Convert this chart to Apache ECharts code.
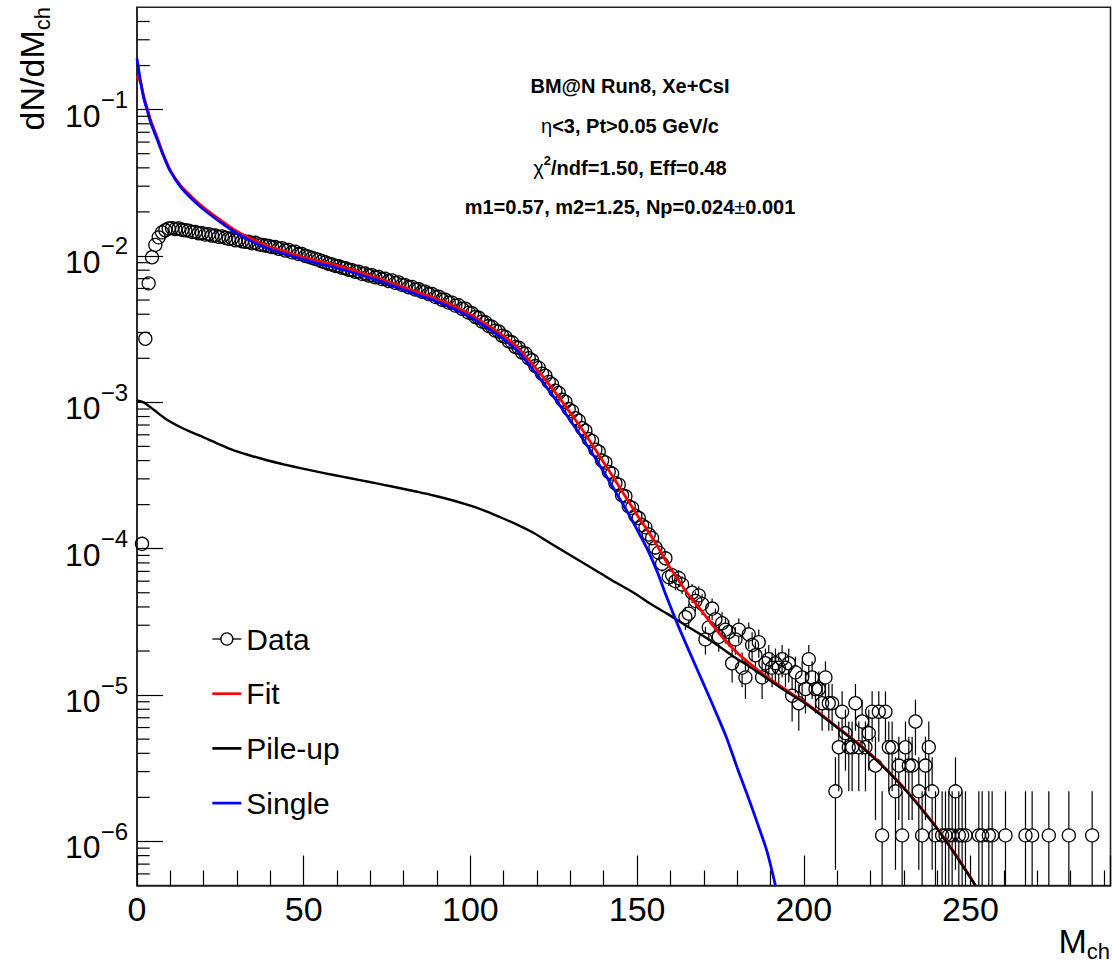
<!DOCTYPE html>
<html><head><meta charset="utf-8">
<script src="https://cdn.jsdelivr.net/npm/echarts@6/dist/echarts.min.js"></script>
<style>html,body{margin:0;padding:0;background:#fff}#c{width:1112px;height:967px}</style>
</head><body><div id="c"></div>
<script>
const FONT = "'Liberation Sans', Arial, Helvetica, sans-serif";

// ---- axes ----
const xMin = 0, xMax = 292, xStep = 50;
const yMin = 5e-7, yMax = 0.5;
const yDecades = [1e-7, 1e-6, 1e-5, 1e-4, 1e-3, 1e-2, 1e-1];
const yMinorMult = [2, 3, 4, 5, 6, 7, 8, 9];

// ---- data points (bin centre, value, error) ----
const dataM = [1.5,2.5,3.5,4.5,5.5,6.5,7.5,8.5,9.5,10.5,11.5,12.5,13.5,14.5,15.5,16.5,17.5,18.5,19.5,20.5,
21.5,22.5,23.5,24.5,25.5,26.5,27.5,28.5,29.5,30.5,31.5,32.5,33.5,34.5,35.5,36.5,37.5,38.5,39.5,40.5,
41.5,42.5,43.5,44.5,45.5,46.5,47.5,48.5,49.5,50.5,51.5,52.5,53.5,54.5,55.5,56.5,57.5,58.5,59.5,60.5,
61.5,62.5,63.5,64.5,65.5,66.5,67.5,68.5,69.5,70.5,71.5,72.5,73.5,74.5,75.5,76.5,77.5,78.5,79.5,80.5,
81.5,82.5,83.5,84.5,85.5,86.5,87.5,88.5,89.5,90.5,91.5,92.5,93.5,94.5,95.5,96.5,97.5,98.5,99.5,100.5,
101.5,102.5,103.5,104.5,105.5,106.5,107.5,108.5,109.5,110.5,111.5,112.5,113.5,114.5,115.5,116.5,117.5,118.5,119.5,120.5,
121.5,122.5,123.5,124.5,125.5,126.5,127.5,128.5,129.5,130.5,131.5,132.5,133.5,134.5,135.5,136.5,137.5,138.5,139.5,140.5,
141.5,142.5,143.5,144.5,145.5,146.5,147.5,148.5,149.5,150.5,151.5,152.5,
153.5,154.5,155.5,156.5,157.5,158.5,159.5,160.5,161.5,162.5,163.5,164.5,165.5,166.5,167.5,168.5,169.5,170.5,171.5,172.5,
173.5,174.5,175.5,176.5,177.5,178.5,179.5,180.5,181.5,182.5,183.5,184.5,185.5,186.5,187.5,188.5,189.5,190.5,191.5,192.5,
193.5,194.5,195.5,196.5,197.5,198.5,199.5,200.5,201.5,202.5,203.5,204.5,205.5,206.5,207.5,208.5,209.5,210.5,211.5,212.5,
213.5,214.5,215.5,216.5,217.5,218.5,219.5,220.5,221.5,222.5,223.5,224.5,225.5,226.5,227.5,228.5,229.5,230.5,231.5,232.5,
233.5,234.5,235.5,236.5,237.5,238.5,239.5,
241.5,242.5,243.5,244.5,245.5,246.5,247.5,248.5,252.5,253.5,255.5,256.5,260.5,266.5,268.5,273.5,279.5,286.5];

const dataV = [1.08e-4,2.72e-3,6.5e-3,9.8e-3,1.19e-2,1.34e-2,1.45e-2,1.5e-2,1.54e-2,1.55e-2,1.53e-2,1.54e-2,1.51e-2,1.5e-2,1.49e-2,1.46e-2,1.46e-2,1.43e-2,1.43e-2,1.4e-2,
1.41e-2,1.38e-2,1.38e-2,1.35e-2,1.36e-2,1.33e-2,1.31e-2,1.32e-2,1.28e-2,1.29e-2,1.26e-2,1.25e-2,1.25e-2,1.22e-2,1.23e-2,1.2e-2,1.19e-2,1.18e-2,1.17e-2,1.15e-2,
1.15e-2,1.12e-2,1.13e-2,1.09e-2,1.1e-2,1.06e-2,1.07e-2,1.03e-2,1.03e-2,1.0e-2,9.9e-3,9.7e-3,9.55e-3,9.4e-3,9.2e-3,9.05e-3,8.85e-3,8.75e-3,8.55e-3,8.5e-3,
8.3e-3,8.25e-3,8.05e-3,8.0e-3,7.8e-3,7.82e-3,7.55e-3,7.58e-3,7.35e-3,7.38e-3,7.15e-3,7.18e-3,6.95e-3,6.98e-3,6.75e-3,6.8e-3,6.55e-3,6.6e-3,6.35e-3,6.32e-3,
6.12e-3,6.15e-3,5.9e-3,5.92e-3,5.7e-3,5.7e-3,5.5e-3,5.5e-3,5.25e-3,5.26e-3,5.02e-3,5.02e-3,4.8e-3,4.8e-3,4.58e-3,4.6e-3,4.36e-3,4.36e-3,4.1e-3,4.06e-3,
3.83e-3,3.78e-3,3.56e-3,3.52e-3,3.32e-3,3.28e-3,3.09e-3,3.05e-3,2.85e-3,2.8e-3,2.61e-3,2.57e-3,2.39e-3,2.36e-3,2.19e-3,2.16e-3,2.0e-3,1.94e-3,1.77e-3,1.72e-3,
1.57e-3,1.52e-3,1.38e-3,1.33e-3,1.2e-3,1.16e-3,1.04e-3,1.01e-3,9.0e-4,8.7e-4,7.8e-4,7.5e-4,6.65e-4,6.4e-4,5.6e-4,5.45e-4,4.75e-4,4.6e-4,4.0e-4,3.88e-4,
3.35e-4,3.26e-4,2.8e-4,2.74e-4,2.32e-4,2.28e-4,1.95e-4,1.9e-4,1.68e-4,1.62e-4,1.45e-4,1.4e-4,
1.25e-4,1.18e-4,1.02e-4,9.4e-5,7.9e-5,8.6e-5,6.4e-5,6.6e-5,6.0e-5,6.3e-5,5.7e-5,3.4e-5,3.6e-5,5.0e-5,4.4e-5,4.8e-5,4.2e-5,2.4e-5,2.9e-5,3.9e-5,
3.3e-5,2.5e-5,3.1e-5,2.8e-5,2.7e-5,1.65e-5,2.4e-5,2.8e-5,1.54e-5,1.32e-5,2.6e-5,2.2e-5,1.87e-5,2.3e-5,1.32e-5,1.65e-5,1.76e-5,1.54e-5,1.65e-5,1.54e-5,
1.76e-5,1.54e-5,1.65e-5,9.9e-6,1.43e-5,8.8e-6,1.32e-5,1.1e-5,1.76e-5,1.32e-5,1.1e-5,1.1e-5,8.8e-6,1.32e-5,8.8e-6,8.8e-6,2.2e-6,4.4e-6,7.7e-6,5.5e-6,
4.4e-6,4.4e-6,8.8e-6,4.4e-6,6.6e-6,4.4e-6,5.5e-6,7.7e-6,3.3e-6,7.7e-6,1.1e-6,7.7e-6,4.4e-6,4.4e-6,2.2e-6,3.3e-6,1.1e-6,4.4e-6,3.3e-6,3.3e-6,
6.6e-6,2.2e-6,1.1e-6,3.3e-6,4.4e-6,2.2e-6,1.1e-6,
1.1e-6,1.1e-6,1.1e-6,1.1e-6,2.2e-6,1.1e-6,1.1e-6,1.1e-6,1.1e-6,1.1e-6,1.1e-6,1.1e-6,1.1e-6,1.1e-6,1.1e-6,1.1e-6,1.1e-6,1.1e-6];

const dataErr = [0,0,0,0,0,0,0,0,0,0,0,0,0,0,0,0,0,0,0,0,
0,0,0,0,0,0,0,0,0,0,0,0,0,0,0,0,0,0,0,0,
0,0,0,0,0,0,0,0,0,0,0,0,0,0,0,0,0,0,0,0,
0,0,0,0,0,0,0,0,0,0,0,0,0,0,0,0,0,0,0,0,
0,0,0,0,0,0,0,0,0,0,0,0,0,0,0,0,0,0,0,0,
0,0,0,0,0,0,0,0,0,0,0,0,0,0,0,0,0,0,0,0,
0,0,0,0,0,0,0,0,0,0,0,0,0,0,0,0,0,0,0,0,
0,0,0,0,0,0,0,0,0,0,0,0,
1.17e-5,1.14e-5,1.06e-5,1.02e-5,9.3e-6,9.7e-6,8.4e-6,8.5e-6,8.1e-6,8.3e-6,7.9e-6,6.1e-6,6.3e-6,7.4e-6,7.0e-6,7.3e-6,6.8e-6,5.1e-6,5.6e-6,6.6e-6,
6.0e-6,5.2e-6,5.8e-6,5.5e-6,5.5e-6,4.3e-6,5.1e-6,5.5e-6,4.1e-6,3.8e-6,5.3e-6,4.9e-6,4.5e-6,5.0e-6,3.8e-6,4.3e-6,4.4e-6,4.1e-6,4.3e-6,4.1e-6,
4.4e-6,4.1e-6,4.3e-6,3.3e-6,4.0e-6,3.1e-6,3.8e-6,3.5e-6,4.4e-6,3.8e-6,3.5e-6,3.5e-6,3.1e-6,3.8e-6,3.1e-6,3.1e-6,1.56e-6,2.2e-6,2.9e-6,2.46e-6,
2.2e-6,2.2e-6,3.1e-6,2.2e-6,2.7e-6,2.2e-6,2.46e-6,2.9e-6,1.9e-6,2.9e-6,1.1e-6,2.9e-6,2.2e-6,2.2e-6,1.56e-6,1.9e-6,1.1e-6,2.2e-6,1.9e-6,1.9e-6,
2.7e-6,1.56e-6,1.1e-6,1.9e-6,2.2e-6,1.56e-6,1.1e-6,
1.1e-6,1.1e-6,1.1e-6,1.1e-6,1.56e-6,1.1e-6,1.1e-6,1.1e-6,1.1e-6,1.1e-6,1.1e-6,1.1e-6,1.1e-6,1.1e-6,1.1e-6,1.1e-6,1.1e-6,1.1e-6];

// ---- curves ----
const fitM = [0,1,2,3,4,5,6,8,10,13,16,19,24,29,34,39,44,49,54,59,64,69,74,79,84,89,94,99,104,109,114,119,124,129,134,139,144,147,150,153,156,159,162,165,169,174,179,184,189,195,201,209,219,229,239,245,251.5];
const fitV = [0.17,0.155,0.124,0.103,0.086,0.0745,0.065,0.0486,0.0383,0.0305,0.0259,0.0224,0.0183,0.0152,0.0132,0.0117,0.0108,9.95e-3,9.3e-3,8.72e-3,8.1e-3,7.45e-3,6.85e-3,6.22e-3,5.66e-3,5.17e-3,4.66e-3,4.1e-3,3.5e-3,2.94e-3,2.39e-3,1.78e-3,1.29e-3,9.1e-4,6.3e-4,4.2e-4,2.8e-4,2.18e-4,1.7e-4,1.35e-4,1.05e-4,8.0e-5,6.3e-5,5.0e-5,3.85e-5,2.75e-5,2.05e-5,1.63e-5,1.33e-5,1.07e-5,8.7e-6,6.3e-6,4.15e-6,2.47e-6,1.32e-6,8.5e-7,5.0e-7];

const pileM = [0,2,5,9,14,19,24,29,34,39,44,49,54,59,64,69,74,79,84,89,94,99,104,109,114,119,124,129,134,139,144,149,154,159,164,169,174,179,184,189,195,201,209,219,229,239,245,251.5];
const pileV = [1.03e-3,1.0e-3,8.9e-4,7.6e-4,6.6e-4,5.9e-4,5.25e-4,4.7e-4,4.33e-4,4.02e-4,3.77e-4,3.55e-4,3.36e-4,3.19e-4,3.03e-4,2.88e-4,2.73e-4,2.59e-4,2.45e-4,2.31e-4,2.16e-4,2.0e-4,1.83e-4,1.64e-4,1.46e-4,1.28e-4,1.09e-4,9.3e-5,7.95e-5,6.8e-5,5.8e-5,5.0e-5,4.2e-5,3.6e-5,3.05e-5,2.6e-5,2.2e-5,1.83e-5,1.55e-5,1.3e-5,1.05e-5,8.6e-6,6.25e-6,4.1e-6,2.45e-6,1.31e-6,8.4e-7,5.0e-7];

const singleM = [0,1,2,3,4,5,6,8,10,13,16,19,24,29,34,39,44,49,54,59,64,69,74,79,84,89,94,99,104,109,114,119,124,129,134,139,144,147,150,153,156,159,162,165,168,171,174,177,180,183,186,189,191.5];
const singleV = [0.223,0.16,0.12,0.1,0.083,0.072,0.063,0.048,0.038,0.0298,0.0251,0.0217,0.0177,0.0147,0.0127,0.0113,0.0104,9.6e-3,8.95e-3,8.4e-3,7.8e-3,7.18e-3,6.6e-3,6.0e-3,5.45e-3,4.98e-3,4.47e-3,3.93e-3,3.35e-3,2.8e-3,2.26e-3,1.65e-3,1.17e-3,8.1e-4,5.5e-4,3.65e-4,2.35e-4,1.8e-4,1.35e-4,1.0e-4,7.0e-5,4.6e-5,3.1e-5,2.15e-5,1.5e-5,1.05e-5,7.3e-6,5.0e-6,3.2e-6,2.1e-6,1.35e-6,8.5e-7,5.0e-7];

// ---- texts ----
const legendNames = ['Data', 'Fit', 'Pile-up', 'Single'];
const infoLines = [
  '{b|BM@N Run8, Xe+CsI}',
  '{g|\u03b7}{b|<3, Pt>0.05 GeV/c}',
  '{g|\u03c7}{sup|2}{b|/ndf=1.50, Eff=0.48}',
  '{b|m1=0.57, m2=1.25, Np=0.024}{g|\u00b1}{b|0.001}'
];

// ---------------------------------------------------------------
const pair = (xs, ys) => xs.map((x, i) => [x, ys[i]]);
const minorTickVals = [];
yDecades.forEach(d => yMinorMult.forEach(m => {
  const v = d * m;
  if (v > yMin * 1.001 && v < yMax * 0.999) minorTickVals.push(v);
}));
const errData = dataM.map((m, i) => [m, dataV[i], dataErr[i]]).filter(d => d[2] > 0);

const infoRich = {
  b: {fontSize: 20, fontWeight: 'bold', fontFamily: FONT, fill: '#000', lineHeight: 24, verticalAlign: 'bottom'},
  g: {fontSize: 20, fontWeight: 'normal', fontFamily: FONT, fill: '#000', lineHeight: 24, verticalAlign: 'bottom'},
  sup: {fontSize: 13, fontWeight: 'bold', fontFamily: FONT, fill: '#000', lineHeight: 13, verticalAlign: 'top'}
};
const titleRich = {
  a: {fontSize: 34, fontFamily: FONT, fill: '#000', lineHeight: 34, verticalAlign: 'top'},
  s: {fontSize: 22, fontFamily: FONT, fill: '#000', padding: [16, 0, 0, 0], verticalAlign: 'top'}
};
const infoY = [84, 124, 166, 205];

const chart = echarts.init(document.getElementById('c'), null, {renderer: 'svg', width: 1112, height: 967});
const option = {
  animation: false,
  backgroundColor: '#fff',
  textStyle: {fontFamily: FONT},
  grid: {left: 137, right: 1.5, top: 7.3, bottom: 81.5, show: true, borderColor: '#222', borderWidth: 1.6, backgroundColor: 'transparent'},
  xAxis: {
    type: 'value', min: xMin, max: xMax, interval: xStep,
    axisLine: {show: true, onZero: false, lineStyle: {color: '#222', width: 1.6}},
    axisTick: {show: true, inside: true, length: 30, lineStyle: {color: '#000', width: 1.2}},
    minorTick: {show: true, splitNumber: 5, length: 15, lineStyle: {color: '#000', width: 1.2}},
    axisLabel: {fontSize: 34, color: '#000', margin: 6, fontFamily: FONT, showMaxLabel: false},
    splitLine: {show: false}
  },
  yAxis: {
    type: 'log', logBase: 10, min: yMin, max: yMax,
    axisLine: {show: true, lineStyle: {color: '#222', width: 1.6}},
    axisTick: {show: true, inside: true, length: 26, lineStyle: {color: '#000', width: 1.2}},
    axisLabel: {
      margin: 9, showMinLabel: false, showMaxLabel: false,
      formatter: v => '{b|10}{s|\u2212' + (-Math.round(Math.log10(v))) + '}',
      rich: {
        b: {fontSize: 32, color: '#000', fontFamily: FONT, lineHeight: 44, verticalAlign: 'bottom'},
        s: {fontSize: 24, color: '#000', fontFamily: FONT, lineHeight: 17, verticalAlign: 'top'}
      }
    },
    splitLine: {show: false}
  },
  legend: {
    orient: 'vertical', left: 211, top: 624, padding: 0, itemWidth: 29, itemHeight: 15, itemGap: 24.7,
    selectedMode: false,
    textStyle: {fontSize: 30, color: '#000', fontFamily: FONT},
    lineStyle: {width: 2.7},
    data: [
      {name: legendNames[0], itemStyle: {color: '#fff', borderColor: '#000', borderWidth: 1.3}, lineStyle: {color: '#000', width: 1.3, opacity: 1}},
      {name: legendNames[1], itemStyle: {opacity: 0}},
      {name: legendNames[2], itemStyle: {opacity: 0}},
      {name: legendNames[3], itemStyle: {opacity: 0}}
    ]
  },
  graphic: [
    ...infoLines.map((t, i) => ({type: 'text', x: 630, y: infoY[i], silent: true,
      style: {text: t, rich: infoRich, align: 'center', verticalAlign: 'middle'}})),
    {type: 'text', x: 34, y: 7, rotation: Math.PI / 2, silent: true,
      style: {text: '{a|dN/dM}{s|ch}', rich: titleRich, align: 'right', verticalAlign: 'middle'}},
    {type: 'text', x: 1110, y: 943, silent: true,
      style: {text: '{a|M}{s|ch}', rich: titleRich, align: 'right', verticalAlign: 'middle'}}
  ],
  series: [
    {
      type: 'custom', name: 'errors', silent: true, z: 2, clip: false,
      data: errData,
      renderItem: (params, api) => {
        const x = api.value(0), v = api.value(1), e = api.value(2);
        const c = api.coord([x, v]);
        const hi = api.coord([x, v + e]);
        const lo = api.coord([x, Math.max(v - e, yMin)]);
        const r = 6.5, kids = [];
        if (c[1] - r > hi[1]) kids.push({type: 'line', shape: {x1: c[0], y1: hi[1], x2: c[0], y2: c[1] - r}, style: {stroke: '#000', lineWidth: 1.2}});
        if (lo[1] > c[1] + r) kids.push({type: 'line', shape: {x1: c[0], y1: c[1] + r, x2: c[0], y2: lo[1]}, style: {stroke: '#000', lineWidth: 1.2}});
        return {type: 'group', children: kids};
      }
    },
    {
      type: 'line', name: legendNames[0], z: 2, data: pair(dataM, dataV),
      symbol: 'circle', symbolSize: 13, showSymbol: true, showAllSymbol: true,
      itemStyle: {color: 'rgba(0,0,0,0)', borderColor: '#000', borderWidth: 1.3},
      lineStyle: {opacity: 0, width: 1}
    },
    {type: 'line', name: legendNames[1], z: 3, data: pair(fitM, fitV), symbol: 'none', smooth: 0.3, lineStyle: {color: '#ff0000', width: 2.8}, itemStyle: {color: '#ff0000'}},
    {type: 'line', name: legendNames[2], z: 4, data: pair(pileM, pileV), symbol: 'none', smooth: 0.3, lineStyle: {color: '#000000', width: 2.4}, itemStyle: {color: '#000000'}},
    {type: 'line', name: legendNames[3], z: 5, data: pair(singleM, singleV), symbol: 'none', smooth: 0.3, lineStyle: {color: '#0000ff', width: 2.8}, itemStyle: {color: '#0000ff'}},
    {
      type: 'custom', name: 'minorTicks', silent: true, z: 10, clip: false,
      data: minorTickVals.map(v => [xMin, v]),
      renderItem: (params, api) => {
        const c = api.coord([api.value(0), api.value(1)]);
        return {type: 'line', shape: {x1: c[0], y1: c[1], x2: c[0] + 12.7, y2: c[1]}, style: {stroke: '#000', lineWidth: 1.2}};
      }
    }
  ]
};
chart.setOption(option);
</script>
</body></html>
